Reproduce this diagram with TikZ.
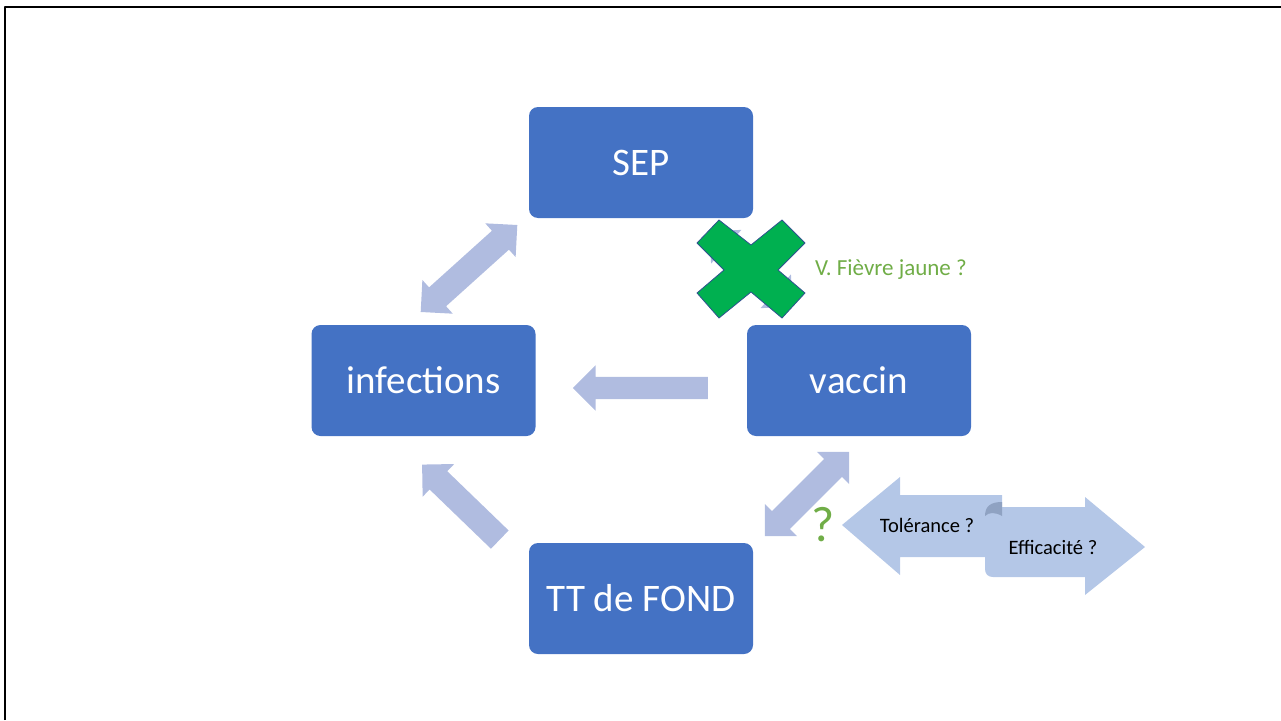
\documentclass[tikz,border=0pt]{standalone}
\usepackage{fontspec}
\setmainfont{Carlito}
\usetikzlibrary{shapes.arrows}
\definecolor{boxblue}{HTML}{4472C4}
\definecolor{arrowblue}{HTML}{B0BCE0}
\definecolor{scrollblue}{HTML}{B4C7E7}
\definecolor{curlblue}{HTML}{8FA2C2}
\definecolor{crossgreen}{HTML}{00B050}
\definecolor{crossline}{HTML}{2F528F}
\definecolor{textgreen}{HTML}{70AD47}
\begin{document}
\begin{tikzpicture}[x=1pt, y=-1pt, line join=round]
	\tikzset{box/.style={fill=boxblue, rounded corners=9pt, minimum width=224pt, minimum height=111pt, text=white, font=\fontsize{39}{44}\selectfont},
		fat/.style={fill=arrowblue, inner xsep=0pt, inner ysep=12.5pt, minimum width=0pt},
		fatone/.style={fat, single arrow, single arrow head extend=10pt},
		fattwo/.style={fat, double arrow, double arrow head extend=10pt},
		small/.style={font=\fontsize{20.5}{24}\selectfont}}
	\useasboundingbox (0,0) rectangle (1281,720);
	\draw[line width=2pt] (5,720)--(5,7)--(1281,7);
	% big arrows between the boxes
	\node[fattwo, minimum height=130pt, rotate=42] (a1) at (469,268.5) {};
	\node[fattwo, minimum height=112pt, rotate=-42] (a2) at (751,269) {};
	\node[fatone, inner ysep=11pt, single arrow head extend=11.5pt, minimum height=135pt, rotate=180] (a3) at (646,388) {};
	\node[fatone, minimum height=108pt, rotate=136] (a4) at (465.5,506.5) {};
	\node[fattwo, minimum height=119pt, rotate=45] (a5) at (807,494) {};
	% boxes
	\node[box] (sep) at (641,162.5) {SEP};
	\node[box] (inf) at (423.5,380.5) {infections};
	\node[box] (vac) at (859,380.5) {vaccin};
	\node[box] (tt) at (641,598.5) {TT de FOND};
	% cross
	\draw[fill=crossgreen, draw=crossline, line width=0.8pt] (719,220)--(751,245)--(782,220)--(805,243)--(778,270)--(805,293)--(782,318)--(751,292)--(719,318)--(697,293)--(724,270)--(697,243)--cycle;
	\node[text=textgreen, font=\fontsize{23}{27}\selectfont] (fj) at (891,270) {V. Fièvre jaune ?};
	\node[text=textgreen, font=\fontsize{50}{56}\selectfont] (q) at (823,525) {?};
	% scroll arrows
	\fill[scrollblue] (842,525)--(900,477)--(900,495)--(1002,495)--(1002,557)--(900,557)--(900,575)--cycle;
	\fill[scrollblue] (985,507)--(1085,507)--(1085,497)--(1145,547)--(1085,595)--(1085,577)--(993,577) .. controls (988,577) and (985,574) .. (985,569)--cycle;
	\fill[curlblue] (985,516) .. controls (985,506) and (991,502) .. (1002,502)--(1002,516) .. controls (995,512) and (989,512) .. (985,516)--cycle;
	\node[small] (tol) at (927,525) {Tolérance ?};
	\node[small] (eff) at (1053,547) {Efficacité ?};
\end{tikzpicture}
\end{document}
